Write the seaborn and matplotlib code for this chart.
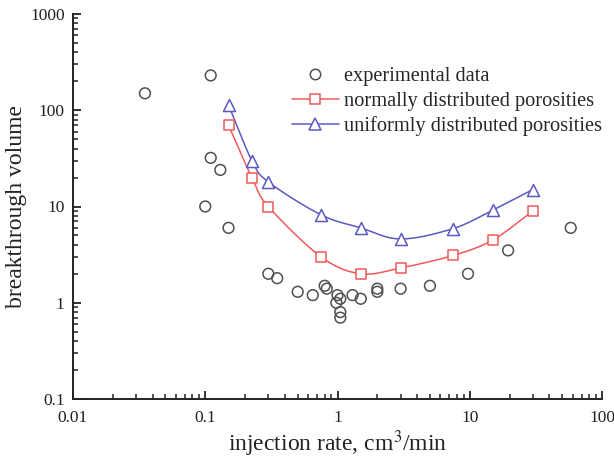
import numpy as np
import pandas as pd
import matplotlib
matplotlib.use("Agg")
import matplotlib.pyplot as plt
import seaborn as sns
from matplotlib.lines import Line2D
from matplotlib.ticker import LogLocator, FixedLocator, NullFormatter

# ---------------- data ----------------
exp_rate = [0.035, 0.11, 0.11, 0.13, 0.10, 0.15, 0.30, 0.35, 0.50, 0.65, 0.80, 0.83,
            1.0, 1.05, 0.98, 1.05, 1.05, 1.3, 1.5, 2.0, 2.0, 3.0, 5.0, 9.7, 19.5, 58.0]
exp_volume = [150, 230, 32, 24, 10, 6.0, 2.0, 1.8, 1.3, 1.2, 1.5, 1.4,
              1.2, 1.1, 1.0, 0.8, 0.7, 1.2, 1.1, 1.4, 1.3, 1.4, 1.5, 2.0, 3.5, 6.0]

model_rate = [0.15, 0.225, 0.30, 0.75, 1.5, 3.0, 7.5, 15.0, 30.0]
normal_volume = [70, 20, 10, 3.0, 2.0, 2.3, 3.1, 4.5, 9.0]
uniform_volume = [113, 30, 18, 8.2, 6.0, 4.6, 5.9, 9.2, 15.0]

legend_labels = ["experimental data", "normally distributed porosities",
                 "uniformly distributed porosities"]

# ---------------- style ----------------
sns.set_theme(style="ticks")
plt.rcParams["font.family"] = ["Liberation Serif", "DejaVu Serif"]
plt.rcParams["mathtext.fontset"] = "stix"

GREY = "#505050"
RED = "#f05a5a"
BLUE = "#5a5ac0"
INK = "#222222"


def smooth(xs, ys, n=30):
    """Catmull-Rom curve through the points in log-log space."""
    lx = np.log10(np.asarray(xs, float))
    ly = np.log10(np.asarray(ys, float))
    px = np.concatenate([[2 * lx[0] - lx[1]], lx, [2 * lx[-1] - lx[-2]]])
    py = np.concatenate([[2 * ly[0] - ly[1]], ly, [2 * ly[-1] - ly[-2]]])
    ox, oy = [], []
    t = np.linspace(0, 1, n, endpoint=False)
    for i in range(1, len(px) - 2):
        for arr, out in ((px, ox), (py, oy)):
            p0, p1, p2, p3 = arr[i - 1], arr[i], arr[i + 1], arr[i + 2]
            out.extend(0.5 * ((2 * p1) + (-p0 + p2) * t
                              + (2 * p0 - 5 * p1 + 4 * p2 - p3) * t ** 2
                              + (-p0 + 3 * p1 - 3 * p2 + p3) * t ** 3))
    ox.append(lx[-1]); oy.append(ly[-1])
    return 10 ** np.array(ox), 10 ** np.array(oy)


fig = plt.figure(figsize=(6.14, 4.59), dpi=100)
ax = fig.add_axes([73 / 614, 1 - 399 / 459, 529 / 614, 385 / 459])

df_exp = pd.DataFrame({"rate": exp_rate, "volume": exp_volume})
nx, ny = smooth(model_rate, normal_volume)
ux, uy = smooth(model_rate, uniform_volume)
df_ncurve = pd.DataFrame({"rate": nx, "volume": ny})
df_ucurve = pd.DataFrame({"rate": ux, "volume": uy})
df_n = pd.DataFrame({"rate": model_rate, "volume": normal_volume})
df_u = pd.DataFrame({"rate": model_rate, "volume": uniform_volume})

sns.lineplot(data=df_ncurve, x="rate", y="volume", sort=False, estimator=None,
             color=RED, lw=1.1, ax=ax, legend=False)
sns.lineplot(data=df_ucurve, x="rate", y="volume", sort=False, estimator=None,
             color=BLUE, lw=1.1, ax=ax, legend=False)
sns.scatterplot(data=df_exp, x="rate", y="volume", marker="o", s=60,
                facecolor="none", edgecolor=GREY, linewidth=1.1, ax=ax, legend=False)
sns.scatterplot(data=df_n, x="rate", y="volume", marker="s", s=55,
                facecolor="white", edgecolor=RED, linewidth=1.1, ax=ax, legend=False,
                zorder=3)
sns.scatterplot(data=df_u, x="rate", y="volume", marker="^", s=75,
                facecolor="white", edgecolor=BLUE, linewidth=1.1, ax=ax, legend=False,
                zorder=3)

ax.set_xscale("log")
ax.set_yscale("log")
ax.set_xlim(0.01, 100)
ax.set_ylim(0.1, 1000)

ax.xaxis.set_major_locator(FixedLocator([0.01, 0.1, 1, 10, 100]))
ax.yaxis.set_major_locator(FixedLocator([0.1, 1, 10, 100, 1000]))
ax.set_xticklabels(["0.01", "0.1", "1", "10", "100"])
ax.set_yticklabels(["0.1", "1", "10", "100", "1000"])
ax.xaxis.set_minor_locator(LogLocator(base=10, subs=np.arange(2, 10)))
ax.yaxis.set_minor_locator(LogLocator(base=10, subs=np.arange(2, 10)))
ax.xaxis.set_minor_formatter(NullFormatter())
ax.yaxis.set_minor_formatter(NullFormatter())

ax.tick_params(which="major", direction="in", length=6, width=1.3,
               labelsize=12.5, colors=INK)
ax.tick_params(axis="y", which="major", pad=6)
ax.tick_params(axis="x", which="major", pad=8)
ax.tick_params(which="minor", direction="in", length=3.5, width=1.1, colors=INK)

sns.despine(ax=ax)
for s in ("left", "bottom"):
    ax.spines[s].set_linewidth(1.4)
    ax.spines[s].set_color(INK)

ax.set_xlabel("injection rate, cm$^3$/min", fontsize=17, color=INK, labelpad=2)
ax.set_ylabel("breakthrough volume", fontsize=17, color=INK, labelpad=2)

handles = [
    Line2D([], [], ls="none", marker="o", mfc="none", mec=GREY, ms=7.5, mew=1.1),
    Line2D([], [], color=RED, lw=1.1, marker="s", mfc="white", mec=RED, ms=7.5, mew=1.1),
    Line2D([], [], color=BLUE, lw=1.1, marker="^", mfc="white", mec=BLUE, ms=8.5, mew=1.1),
]
ax.legend(handles, legend_labels, loc="upper left", bbox_to_anchor=(0.414, 0.864),
          frameon=False, fontsize=14.7, handlelength=2.3, handletextpad=0.25,
          labelspacing=0.28, borderaxespad=0, borderpad=0)

fig.savefig("out.png", dpi=100)
